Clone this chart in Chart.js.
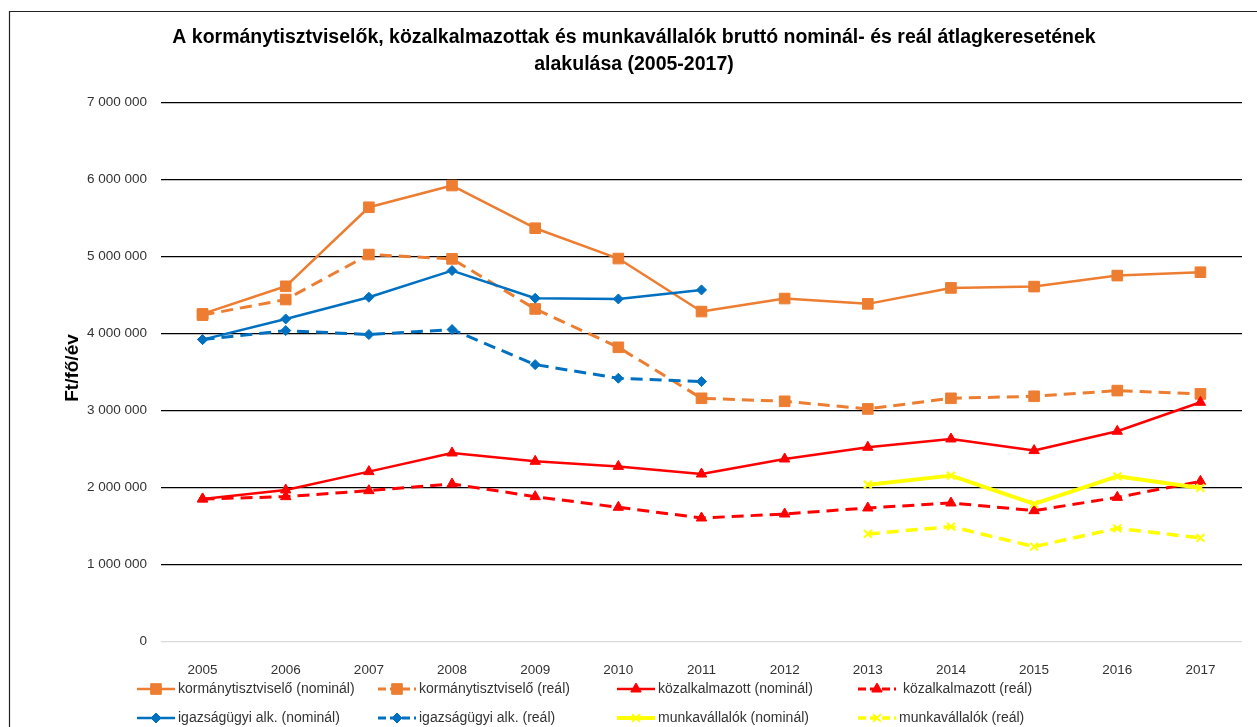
<!DOCTYPE html>
<html lang="hu">
<head>
<meta charset="utf-8">
<title>Bruttó nominál- és reál átlagkereset (2005-2017)</title>
<script src="https://cdn.jsdelivr.net/npm/chart.js@4.4.1/dist/chart.umd.min.js"></script>
<style>
  html, body { margin: 0; padding: 0; background: #fff; }
  #wrap { position: relative; width: 1257px; height: 727px; }
</style>
</head>
<body>
<div id="wrap"><canvas id="earnings"></canvas></div>
<script>
// ===== DATA =====
const years = ['2005', '2006', '2007', '2008', '2009', '2010', '2011', '2012', '2013', '2014', '2015', '2016', '2017'];
const kormanyNominal = [4256000, 4614000, 5640000, 5922000, 5368000, 4974000, 4286000, 4455000, 4386000, 4593000, 4610000, 4753000, 4797000];
const kormanyReal = [4240000, 4442000, 5026000, 4970000, 4320000, 3822000, 3160000, 3121000, 3022000, 3160000, 3186000, 3260000, 3217000];
const kozalkNominal = [1853000, 1970000, 2208000, 2450000, 2342000, 2276000, 2177000, 2372000, 2524000, 2632000, 2481000, 2732000, 3108000];
const kozalkReal = [1853000, 1883000, 1961000, 2048000, 1883000, 1745000, 1606000, 1658000, 1736000, 1801000, 1701000, 1874000, 2082000];
const igazsagNominal = [3922000, 4190000, 4472000, 4818000, 4459000, 4450000, 4567000, null, null, null, null, null, null];
const igazsagReal = [3922000, 4039000, 3987000, 4052000, 3597000, 3420000, 3377000, null, null, null, null, null, null];
const munkaNominal = [null, null, null, null, null, null, null, null, 2039000, 2156000, 1788000, 2147000, 1996000];
const munkaReal = [null, null, null, null, null, null, null, null, 1399000, 1494000, 1234000, 1472000, 1347000];
const yTicks = [0, 1000000, 2000000, 3000000, 4000000, 5000000, 6000000, 7000000];

const titleLines = [
  'A kormánytisztviselők, közalkalmazottak és munkavállalók bruttó nominál- és reál átlagkeresetének',
  'alakulása (2005-2017)',
];
const yTitle = 'Ft/fő/év';

// ===== COLORS =====
const COLORS = {
  orange: '#ED7D31',
  blue: '#0070C0',
  red: '#FF0000',
  yellow: '#FFFF00',
  grid: '#000000',
  zeroLine: '#D9D9D9',
  text: '#333333',
  frame: '#222222',
};
const FONT = "'Liberation Sans', Arial, sans-serif";

// ===== SERIES =====
function series(label, data, color, dashed, style, radius, width) {
  return {
    label,
    data,
    borderColor: color,
    backgroundColor: color,
    borderWidth: width,
    borderDash: dashed ? [12, 7] : [],
    borderJoinStyle: 'round',
    pointStyle: style,
    pointRadius: radius,
    pointHoverRadius: radius,
    pointBackgroundColor: color,
    pointBorderColor: color,
    pointBorderWidth: style === 'crossRot' ? 2 : 1,
    tension: 0,
    spanGaps: false,
    fill: false,
  };
}

const datasets = [
  series('kormánytisztviselő (nominál)', kormanyNominal, COLORS.orange, false, 'rect', 7.5, 2.5),
  series('kormánytisztviselő (reál)', kormanyReal, COLORS.orange, true, 'rect', 7.5, 3),
  series('közalkalmazott (nominál)', kozalkNominal, COLORS.red, false, 'triangle', 6, 2.5),
  series(' közalkalmazott (reál)', kozalkReal, COLORS.red, true, 'triangle', 6, 3),
  series('igazságügyi alk. (nominál)', igazsagNominal, COLORS.blue, false, 'rectRot', 5, 2.5),
  series('igazságügyi alk. (reál)', igazsagReal, COLORS.blue, true, 'rectRot', 5, 3),
  series('munkavállalók (nominál)', munkaNominal, COLORS.yellow, false, 'crossRot', 5.5, 4),
  series('munkavállalók (reál)', munkaReal, COLORS.yellow, true, 'crossRot', 5.5, 3.5),
];
// excel draws later series on top
datasets.forEach((d, i) => { d.order = datasets.length - i; });

// ===== LEGEND LAYOUT (4 columns x 2 rows) =====
const legendCols = [137, 378, 617, 858];
const legendRows = [689, 718];

function fmtThousands(v) {
  return String(v).replace(/\B(?=(\d{3})+(?!\d))/g, ' ');
}

// ===== DECORATION PLUGIN: frame, title, y title, legend =====
const decorations = {
  id: 'decorations',
  beforeDraw(chart) {
    const ctx = chart.ctx;
    ctx.save();
    ctx.strokeStyle = COLORS.frame;
    ctx.lineWidth = 1.2;
    ctx.beginPath();
    ctx.moveTo(9.5, chart.height);
    ctx.lineTo(9.5, 11.5);
    ctx.lineTo(chart.width, 11.5);
    ctx.stroke();
    ctx.restore();
  },
  afterDraw(chart) {
    const ctx = chart.ctx;
    ctx.save();
    ctx.fillStyle = '#000';
    ctx.textAlign = 'center';
    ctx.textBaseline = 'middle';
    ctx.font = `bold 19.5px ${FONT}`;
    ctx.fillText(titleLines[0], 634, 38);
    ctx.fillText(titleLines[1], 634, 65);

    ctx.translate(73, 368);
    ctx.rotate(-Math.PI / 2);
    ctx.font = `bold 19px ${FONT}`;
    ctx.fillText(yTitle, 0, 0);
    ctx.restore();

    ctx.save();
    ctx.font = `14px ${FONT}`;
    ctx.textBaseline = 'middle';
    ctx.textAlign = 'left';
    chart.data.datasets.forEach((ds, i) => {
      const x = legendCols[i % 4];
      const y = legendRows[Math.floor(i / 4)];
      ctx.strokeStyle = ds.borderColor;
      ctx.lineWidth = ds.borderWidth;
      ctx.setLineDash(ds.borderDash.length ? [8, 4] : []);
      ctx.beginPath();
      ctx.moveTo(x, y);
      ctx.lineTo(x + 38, y);
      ctx.stroke();
      ctx.setLineDash([]);
      ctx.fillStyle = ds.pointBackgroundColor;
      ctx.lineWidth = ds.pointBorderWidth;
      Chart.helpers.drawPoint(ctx, {
        pointStyle: ds.pointStyle,
        radius: ds.pointRadius,
        rotation: 0,
        borderWidth: ds.pointBorderWidth,
      }, x + 19, y);
      ctx.fillStyle = COLORS.text;
      ctx.fillText(ds.label, x + 41, y);
    });
    ctx.restore();
  },
};

// ===== CHART =====
const canvas = document.getElementById('earnings');
new Chart(canvas, {
  type: 'line',
  data: { labels: years, datasets },
  plugins: [decorations],
  options: {
    responsive: true,
    maintainAspectRatio: false,
    animation: false,
    layout: { padding: { top: 102.5, right: 15, bottom: 0, left: 0 } },
    plugins: {
      legend: { display: false },
      title: { display: false },
      tooltip: { enabled: false },
    },
    scales: {
      x: {
        offset: true,
        grid: { display: false },
        border: { display: false },
        ticks: { color: COLORS.text, font: { family: FONT, size: 13.5 }, padding: 12, maxRotation: 0 },
        afterFit(scale) { scale.height = 85.3; },
      },
      y: {
        min: 0,
        max: 7000000,
        afterBuildTicks(scale) { scale.ticks = yTicks.map((v) => ({ value: v })); },
        grid: {
          color: (c) => (c.tick && c.tick.value === 0 ? COLORS.zeroLine : COLORS.grid),
          lineWidth: 1.3,
          drawTicks: false,
        },
        border: { display: false },
        ticks: {
          color: COLORS.text,
          font: { family: FONT, size: 13.5 },
          padding: 14,
          callback: (v) => fmtThousands(v),
        },
        afterFit(scale) { scale.width = 161; },
      },
    },
  },
});
</script>
</body>
</html>
